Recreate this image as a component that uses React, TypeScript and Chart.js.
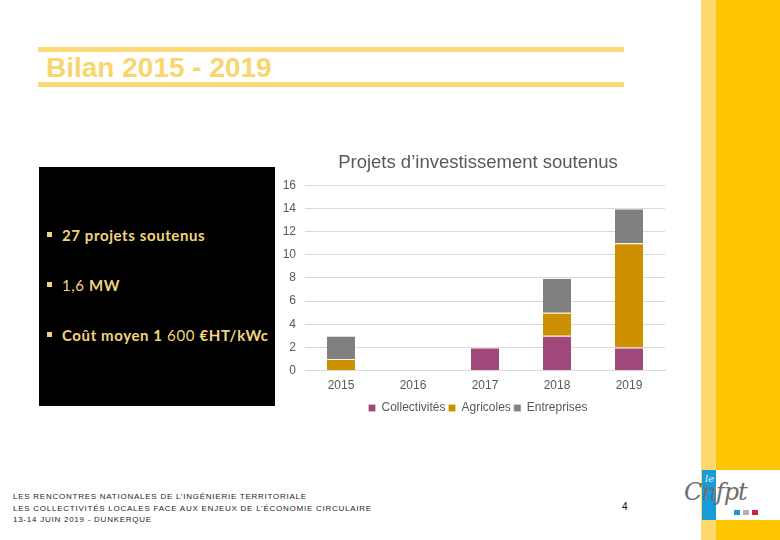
import React, { useEffect, useRef } from "react";
import { Chart, registerables } from "chart.js";

Chart.register(...registerables);

const categories = ["2015", "2016", "2017", "2018", "2019"];
const collectivites = [0, 0, 2, 3, 2];
const agricoles = [1, 0, 0, 2, 9];
const entreprises = [2, 0, 0, 3, 3];
const seriesNames = ["Collectivités", "Agricoles", "Entreprises"];
const seriesColors = ["#A0487C", "#CC9000", "#808080"];
const chartTitle = "Projets d’investissement soutenus";
const slideTitle = "Bilan 2015 - 2019";
const footerLines = [
  "LES RENCONTRES NATIONALES DE L’INGÉNIERIE TERRITORIALE",
  "LES COLLECTIVITÉS LOCALES FACE AUX ENJEUX DE L’ÉCONOMIE CIRCULAIRE",
  "13-14 JUIN 2019 - DUNKERQUE",
];

const FONT = "'Liberation Sans', Arial, sans-serif";

function BarChart() {
  const ref = useRef<HTMLCanvasElement>(null);
  useEffect(() => {
    if (!ref.current) return;
    const values = [collectivites, agricoles, entreprises];
    const chart = new Chart(ref.current, {
      type: "bar",
      data: {
        labels: categories,
        datasets: seriesNames.map((name, i) => ({
          label: name,
          data: values[i],
          backgroundColor: seriesColors[i],
          borderColor: "#FFF8DC",
          borderWidth: { top: 1, left: 0, right: 0, bottom: 0 },
          borderSkipped: false,
          categoryPercentage: 1,
          barPercentage: 0.39,
          yAxisID: "y",
        })),
      },
      options: {
        animation: false,
        responsive: false,
        maintainAspectRatio: false,
        layout: { padding: { left: 0, right: 4, top: 10, bottom: 0 } },
        plugins: {
          title: {
            display: true,
            text: chartTitle,
            color: "#595959",
            font: { family: FONT, size: 18.5, weight: "normal" },
            padding: { top: 0, bottom: 11 },
          },
          legend: {
            position: "bottom",
            labels: {
              color: "#595959",
              font: { family: FONT, size: 12 },
              boxWidth: 7,
              boxHeight: 7,
              padding: 3,
            },
          },
          tooltip: { enabled: false },
        },
        scales: {
          x: {
            stacked: true,
            grid: { display: false, drawTicks: false },
            border: { display: true, color: "#D9D9D9" },
            ticks: { color: "#595959", font: { family: FONT, size: 12 }, padding: 8 },
            afterFit: (scale: any) => {
              scale.height = scale.height - 2;
            },
          },
          y: {
            stacked: true,
            min: 0,
            max: 16,
            ticks: { stepSize: 2, color: "#595959", font: { family: FONT, size: 12 }, padding: 9 },
            grid: { color: "#D9D9D9", drawTicks: false },
            border: { display: false },
            afterFit: (scale: any) => {
              scale.width = 30;
            },
          },
          yR: {
            type: "linear",
            position: "right",
            display: true,
            grid: { display: false, drawTicks: false },
            border: { display: false },
            ticks: { display: false },
            afterFit: (scale: any) => {
              scale.width = 16;
            },
          },
        },
      },
    });
    return () => chart.destroy();
  }, []);
  return (
    <canvas
      ref={ref}
      width={410}
      height={282}
      style={{ position: "absolute", left: 275, top: 142, width: 410, height: 282 }}
    />
  );
}

const bulletText: React.CSSProperties = {
  position: "absolute",
  left: 62,
  color: "#F3D47C",
  fontFamily: "Lato, 'Open Sans', sans-serif",
  fontSize: 15,
  letterSpacing: 0.6,
  lineHeight: "18px",
  whiteSpace: "nowrap",
};

function Bullet({ y, children }: { y: number; children: React.ReactNode }) {
  return (
    <>
      <div style={{ position: "absolute", left: 47, top: y - 3, width: 5, height: 5, background: "#F3D47C" }} />
      <div style={{ ...bulletText, top: y - 9 }}>{children}</div>
    </>
  );
}

export default function App() {
  return (
    <div
      style={{
        position: "fixed",
        left: 0,
        top: 0,
        width: 780,
        height: 540,
        background: "#FFFFFF",
        overflow: "hidden",
        fontFamily: FONT,
      }}
    >
      {/* right stripes */}
      <div style={{ position: "absolute", left: 701, top: 0, width: 15, height: 540, background: "#FDD86A" }} />
      <div style={{ position: "absolute", left: 716, top: 0, width: 64, height: 540, background: "#FFC500" }} />
      <div style={{ position: "absolute", left: 702, top: 470, width: 78, height: 50, background: "#FFFFFF" }} />
      <div style={{ position: "absolute", left: 702, top: 470, width: 14, height: 50, background: "#1A9AD6" }} />
      <div style={{ position: "absolute", left: 705, top: 473, color: "#E8F4FA", fontSize: 10, fontStyle: "italic", fontFamily: "'DejaVu Serif', serif" }}>le</div>
      <div style={{ position: "absolute", left: 684, top: 478, color: "#6E6E6E", fontSize: 24, fontStyle: "italic", fontFamily: "'DejaVu Serif', serif", letterSpacing: -1 }}>Cnfpt</div>
      <div style={{ position: "absolute", left: 734, top: 510, width: 6, height: 5, background: "#1A9AD6" }} />
      <div style={{ position: "absolute", left: 743, top: 510, width: 6, height: 5, background: "#B0B0B8" }} />
      <div style={{ position: "absolute", left: 752, top: 510, width: 6, height: 5, background: "#C8283C" }} />

      {/* title lines */}
      <div style={{ position: "absolute", left: 38, top: 47, width: 586, height: 5, background: "#F9D978" }} />
      <div style={{ position: "absolute", left: 38, top: 82, width: 586, height: 5, background: "#F9D978" }} />
      <div
        style={{
          position: "absolute",
          left: 46,
          top: 52,
          color: "#F8D66E",
          fontSize: 28,
          fontWeight: "bold",
          whiteSpace: "nowrap",
          lineHeight: "32px",
        }}
      >
        {slideTitle}
      </div>

      {/* black box */}
      <div style={{ position: "absolute", left: 39, top: 167, width: 236, height: 239, background: "#000000" }} />
      <Bullet y={235}>
        <b>27 projets soutenus</b>
      </Bullet>
      <Bullet y={285}>
        1,6 <b>MW</b>
      </Bullet>
      <Bullet y={335}>
        <b>Coût moyen 1</b> 600 <b>€HT/kWc</b>
      </Bullet>

      <BarChart />

      {/* footer */}
      <div
        style={{
          position: "absolute",
          left: 13,
          top: 491,
          color: "#262626",
          fontSize: 8,
          lineHeight: "11.5px",
          letterSpacing: 0.75,
          whiteSpace: "nowrap",
        }}
      >
        {footerLines.map((l) => (
          <div key={l}>{l}</div>
        ))}
      </div>
      <div style={{ position: "absolute", left: 622, top: 501, fontSize: 10, color: "#000" }}>4</div>
    </div>
  );
}
